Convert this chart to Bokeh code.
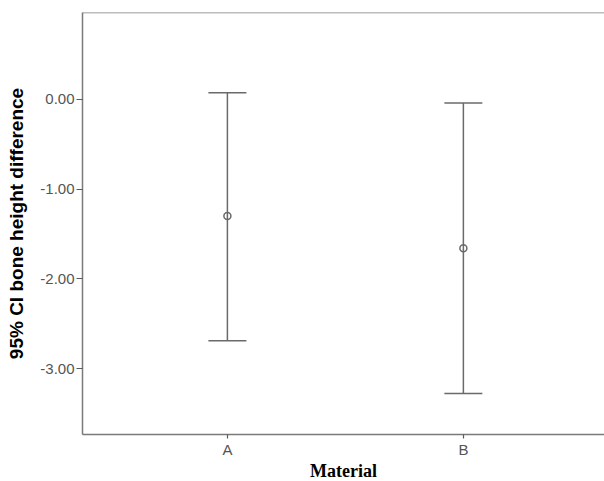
from bokeh.plotting import figure
from bokeh.models import (ColumnDataSource, Whisker, TeeHead, FixedTicker,
                          NumeralTickFormatter, Range1d, Span)
from bokeh.embed import file_html
from bokeh.resources import INLINE

# data
materials = ["A", "B"]
means = [-1.30, -1.66]
lower = [-2.69, -3.28]
upper = [0.075, -0.04]
y_ticks = [0.0, -1.0, -2.0, -3.0]

xpos = list(range(len(materials)))
src = ColumnDataSource(dict(x=xpos, mean=means, lower=lower, upper=upper))

GRAY = "#6a6a6a"

p = figure(frame_width=522, frame_height=422, output_backend="svg",
           toolbar_location=None,
           x_range=Range1d(-0.614, 1.598), y_range=Range1d(-3.736, 0.97),
           min_border_left=82, min_border_top=12, min_border_right=0,
           min_border_bottom=0)
p.outline_line_color = None
p.xgrid.visible = False
p.ygrid.visible = False
p.background_fill_color = "white"
p.border_fill_color = "white"

w = Whisker(source=src, base="x", upper="upper", lower="lower",
            dimension="height", line_color=GRAY, line_width=1.5,
            upper_head=TeeHead(size=38, line_color=GRAY, line_width=1.5),
            lower_head=TeeHead(size=38, line_color=GRAY, line_width=1.5))
p.add_layout(w)

p.scatter("x", "mean", source=src, marker="circle", size=7,
          fill_color=None, line_color=GRAY, line_width=1.5)

top = Span(location=0.97, dimension="width", line_color="#7a7a7a", line_width=1.5)
p.add_layout(top)

# axes
p.xaxis.ticker = FixedTicker(ticks=xpos)
p.xaxis.major_label_overrides = {i: m for i, m in enumerate(materials)}
p.yaxis.ticker = FixedTicker(ticks=y_ticks)
p.yaxis.formatter = NumeralTickFormatter(format="0.00")

for ax in (p.xaxis[0], p.yaxis[0]):
    ax.axis_line_color = "#7a7a7a"
    ax.axis_line_width = 1.5
    ax.major_tick_line_color = "#5a5a5a"
    ax.major_tick_line_width = 1.2
    ax.major_tick_in = 0
    ax.minor_tick_line_color = None
    ax.major_label_text_font = "Liberation Sans"
    ax.major_label_text_font_size = "15px"
    ax.major_label_text_color = "#555555"

p.yaxis.major_tick_out = 6
p.yaxis.major_label_standoff = 2
p.xaxis.major_tick_out = 4
p.xaxis.major_label_standoff = 2

p.yaxis.axis_label = "95% CI bone height difference"
p.yaxis.axis_label_text_font = "Liberation Sans"
p.yaxis.axis_label_text_font_style = "bold"
p.yaxis.axis_label_text_font_size = "19px"
p.yaxis.axis_label_text_color = "black"
p.yaxis.axis_label_standoff = 10

p.xaxis.axis_label = "Material"
p.xaxis.axis_label_text_font = "Liberation Serif"
p.xaxis.axis_label_text_font_style = "bold"
p.xaxis.axis_label_text_font_size = "18px"
p.xaxis.axis_label_text_color = "black"
p.xaxis.axis_label_standoff = 0

open("out.html", "w").write(file_html(p, INLINE))
